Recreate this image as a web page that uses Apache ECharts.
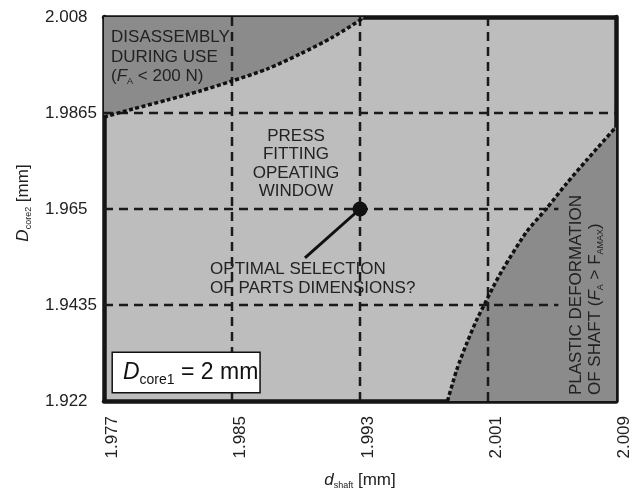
<!DOCTYPE html>
<html><head><meta charset="utf-8">
<script src="https://cdn.jsdelivr.net/npm/echarts@6/dist/echarts.min.js"></script>
<style>html,body{margin:0;padding:0;background:#fff}#c{width:634px;height:490px}</style>
</head><body><div id="c"></div>
<script>
// ---- data ----
const xTicks = [1.977, 1.985, 1.993, 2.001, 2.009];
const yTicks = [1.922, 1.9435, 1.965, 1.9865, 2.008];
const xGridLines = [1.985, 1.993, 2.001];
const yGridFull = [1.9865];
const yGridShort = [1.9435, 1.965];
const yGridShortEnd = 2.0054;
const disassemblyCurve = [[1.977,1.9856],[1.97881,1.9874],[1.98094,1.98941],[1.983,1.99143],[1.985,1.99366],[1.98719,1.99635],[1.98925,1.99971],[1.99131,2.00352],[1.99331,2.008]];
const plasticCurve = [[1.99847,1.922],[1.99904,1.92894],[1.99967,1.93492],[2.00029,1.94014],[2.00081,1.94388],[2.00133,1.9476],[2.00196,1.95172],[2.00342,1.95992],[2.00467,1.96516],[2.00592,1.97076],[2.00717,1.97597],[2.009,1.98336]];
const optimalPoint = [1.993, 1.965];
const pointerEnd = [1.98956, 1.95403];
const labelDisassembly = [1.97744, 1.99904];
const labelPress = [1.989, 1.97508];
const labelOptimal = [1.98363, 1.94932];
const labelPlastic = [2.007125, 1.92334];
const labelBox = [1.97756, 1.92401];

const X0 = xTicks[0], X1 = xTicks[xTicks.length-1];
const Y0 = yTicks[0], Y1 = yTicks[yTicks.length-1];
const FONT = 'Liberation Sans, Arial, sans-serif';
const TXT = '#222';
const dashStyle = {type:[9,6], width:2.5, color:'#1a1a1a'};
const subRich = {
  i:{fontStyle:'italic', fontFamily:FONT, color:TXT, fontSize:17, lineHeight:19},
  s:{fontSize:9, fontFamily:FONT, color:TXT, verticalAlign:'bottom', lineHeight:9}
};

const gridSeries = [];
xGridLines.forEach(x => gridSeries.push([[x,Y0],[x,Y1]]));
yGridFull.forEach(y => gridSeries.push([[X0,y],[X1,y]]));
yGridShort.forEach(y => gridSeries.push([[X0,y],[yGridShortEnd,y]]));

const chart = echarts.init(document.getElementById('c'), null, {renderer:'canvas'});
const series = [
  {type:'line', data:disassemblyCurve, smooth:0.25, showSymbol:false, z:1,
   lineStyle:{width:0}, areaStyle:{origin:'end', color:'#8b8b8b', opacity:1}},
  {type:'line', data:plasticCurve, smooth:0.25, showSymbol:false, z:1,
   lineStyle:{width:0}, areaStyle:{origin:'start', color:'#8b8b8b', opacity:1}},
  ...gridSeries.map(d => ({type:'line', data:d, showSymbol:false, z:3, lineStyle:dashStyle, silent:true})),
  {type:'line', data:disassemblyCurve, smooth:0.25, showSymbol:false, z:4,
   lineStyle:{type:[4,2.5], width:3.5, color:'#111'}},
  {type:'line', data:plasticCurve, smooth:0.25, showSymbol:false, z:4,
   lineStyle:{type:[4,2.5], width:3.5, color:'#111'}},
  {type:'line', data:[optimalPoint, pointerEnd], showSymbol:false, z:5,
   lineStyle:{width:3, color:'#111'}},
  {type:'scatter', data:[optimalPoint], symbolSize:15, z:6, itemStyle:{color:'#111', opacity:1}},
  {type:'scatter', symbolSize:0, z:7, silent:true, itemStyle:{opacity:1},
   label:{show:true, position:[0,0], fontFamily:FONT, fontSize:17, color:TXT, lineHeight:19},
   data:[
    {value:labelDisassembly, label:{formatter:'DISASSEMBLY\nDURING USE\n({i|F}{s|A} < 200 N)', align:'left', verticalAlign:'middle', lineHeight:19.5, rich:subRich}},
    {value:labelPress, label:{formatter:'PRESS\nFITTING\nOPEATING\nWINDOW', align:'center', verticalAlign:'middle', lineHeight:18.5}},
    {value:labelOptimal, label:{formatter:'OPTIMAL SELECTION\nOF PARTS DIMENSIONS?', align:'left', verticalAlign:'middle', lineHeight:18.5}},
    {value:labelPlastic, label:{formatter:'PLASTIC DEFORMATION\nOF SHAFT ({i|F}{s|A} > F{s|AMAX})', rotate:90, align:'left', verticalAlign:'middle', lineHeight:19, rich:subRich}},
    {value:labelBox, label:{formatter:'{bi|D}{bs|core1} = 2 mm', fontSize:23, lineHeight:28, align:'left', verticalAlign:'bottom',
      backgroundColor:'#fff', borderColor:'#111', borderWidth:1.5, padding:[6,1,5,10], color:'#111',
      rich:{bi:{fontStyle:'italic', fontSize:23, fontFamily:FONT, color:'#111', lineHeight:28},
            bs:{fontSize:14, fontFamily:FONT, color:'#111', verticalAlign:'bottom', lineHeight:14}}}}
   ]}
];

const axisLineStyle = {show:true, onZero:false, lineStyle:{color:'#151515', width:4.5}};
chart.setOption({
  animation:false,
  grid:{left:104, right:18, top:17, bottom:89, show:true, backgroundColor:'#bdbdbd', borderWidth:0,
        containLabel:false, outerBoundsMode:'none'},
  xAxis:[
    {type:'value', min:X0, max:X1, position:'bottom', axisLine:axisLineStyle, axisTick:{show:false}, splitLine:{show:false},
     axisLabel:{customValues:xTicks, rotate:90, fontSize:17, fontFamily:FONT, color:TXT, margin:15, verticalAlign:'top', formatter:v=>String(v)},
     name:'{i|d}{s|shaft} [mm]', nameLocation:'middle', nameGap:70,
     nameTextStyle:{fontSize:17, fontFamily:FONT, color:TXT, rich:subRich}},
    {type:'value', min:X0, max:X1, position:'top', axisLine:axisLineStyle, axisTick:{show:false}, splitLine:{show:false}, axisLabel:{show:false}}
  ],
  yAxis:[
    {type:'value', min:Y0, max:Y1, position:'left', axisLine:axisLineStyle, axisTick:{show:false}, splitLine:{show:false},
     axisLabel:{customValues:yTicks, fontSize:17, fontFamily:FONT, color:TXT, margin:59, align:'left', formatter:v=>String(v)},
     name:'{i|D}{s|core2} [mm]', nameLocation:'middle', nameGap:71, nameRotate:90,
     nameTextStyle:{fontSize:17, fontFamily:FONT, color:TXT, rich:subRich, padding:[0,0,0,12]}},
    {type:'value', min:Y0, max:Y1, position:'right', axisLine:axisLineStyle, axisTick:{show:false}, splitLine:{show:false}, axisLabel:{show:false}}
  ],
  series
});
</script></body></html>
